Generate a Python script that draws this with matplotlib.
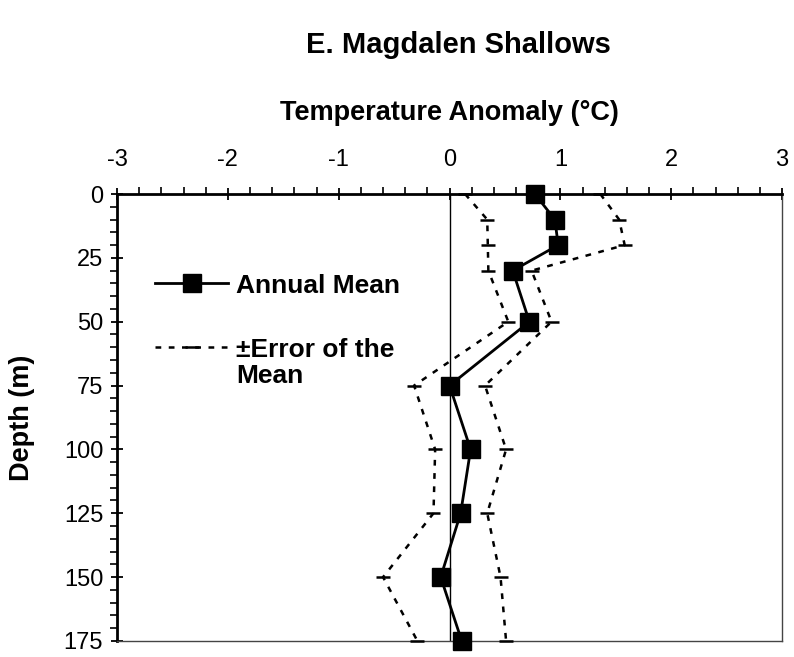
import matplotlib.pyplot as plt
from matplotlib.ticker import MultipleLocator

plt.rcParams['font.family'] = ['Liberation Sans', 'DejaVu Sans']
plt.rcParams['axes.unicode_minus'] = False

# Temperature anomaly profile, E. Magdalen Shallows
depth = [0, 10, 20, 30, 50, 75, 100, 125, 150, 175]
annual_mean = [0.77, 0.95, 0.98, 0.57, 0.72, 0.0, 0.19, 0.10, -0.08, 0.11]
err_lower = [0.14, 0.34, 0.345, 0.35, 0.53, -0.32, -0.13, -0.145, -0.60, -0.29]
err_upper = [1.36, 1.53, 1.58, 0.74, 0.92, 0.32, 0.51, 0.34, 0.46, 0.51]

x_ticks = [-3, -2, -1, 0, 1, 2, 3]
y_ticks = [0, 25, 50, 75, 100, 125, 150, 175]

fig = plt.figure(figsize=(7.94, 6.57), dpi=100)
ax = fig.add_axes([0.1474, 0.0244, 0.8376, 0.6803])

dash_style = dict(color='black', linestyle=(0, (2.3, 3)), linewidth=1.8,
                  marker='_', markersize=10, markeredgewidth=1.8)

ax.plot(err_lower, depth, **dash_style, clip_on=False, zorder=3)
ax.plot(err_upper, depth, **dash_style, clip_on=False, zorder=3)
ax.plot(annual_mean, depth, color='black', linewidth=2, marker='s',
        markersize=13, clip_on=False, zorder=4)

# zero line
ax.axvline(0, color='black', linewidth=1, zorder=1)

ax.set_xlim(-3, 3)
ax.set_ylim(175, 0)
ax.xaxis.tick_top()
ax.set_xticks(x_ticks)
ax.set_yticks(y_ticks)
ax.xaxis.set_minor_locator(MultipleLocator(0.2))
ax.yaxis.set_minor_locator(MultipleLocator(5))
ax.tick_params(axis='both', which='major', direction='inout', length=9, width=1.3,
               labelsize=17)
ax.tick_params(axis='x', which='major', pad=12)
ax.tick_params(axis='y', which='major', pad=5.5)
ax.tick_params(axis='both', which='minor', direction='out', length=5, width=1.2)
ax.tick_params(axis='x', which='both', top=True, bottom=False)
ax.tick_params(axis='y', which='both', left=True, right=False)

for side in ['top', 'left']:
    ax.spines[side].set_linewidth(2)
for side in ['bottom', 'right']:
    ax.spines[side].set_linewidth(1)
    ax.spines[side].set_color('#444444')

ax.set_xlabel('Temperature Anomaly (°C)', fontsize=19.5, fontweight='bold', va='center')
ax.xaxis.set_label_coords(0.5, 1.181)
ax.set_ylabel('Depth (m)', fontsize=19.5, fontweight='bold', va='center')
ax.yaxis.set_label_coords(-0.143, 0.5)

fig.text(0.577, 0.9315, 'E. Magdalen Shallows', fontsize=21, fontweight='bold',
         ha='center', va='center')

# legend drawn in axes coordinates
tr = ax.transAxes
ax.plot([0.057, 0.167], [0.801, 0.801], color='black', linewidth=2, transform=tr, clip_on=False)
ax.plot([0.112], [0.801], marker='s', color='black', markersize=13, transform=tr, clip_on=False)
ax.text(0.179, 0.779, 'Annual Mean', transform=tr, fontsize=19, fontweight='bold',
        va='baseline', ha='left')
ax.plot([0.057, 0.167], [0.658, 0.658], color='black', linestyle=(0, (2.3, 3)),
        linewidth=1.8, transform=tr, clip_on=False)
ax.plot([0.112], [0.658], marker='_', color='black', markersize=10, markeredgewidth=1.8,
        transform=tr, clip_on=False)
ax.text(0.179, 0.635, '±Error of the', transform=tr, fontsize=19, fontweight='bold',
        va='baseline', ha='left')
ax.text(0.179, 0.577, 'Mean', transform=tr, fontsize=19, fontweight='bold',
        va='baseline', ha='left')

fig.savefig('out.png', dpi=100)
